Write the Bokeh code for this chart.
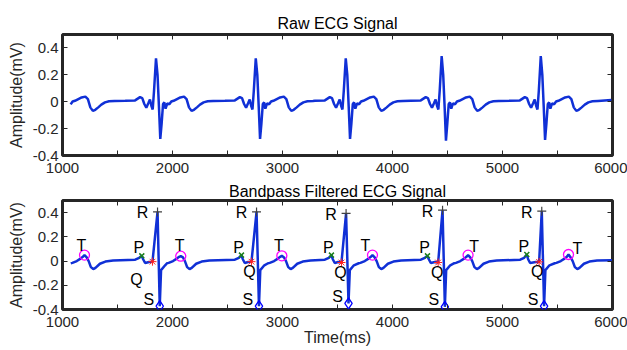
from bokeh.plotting import figure
from bokeh.models import Range1d, FixedTicker, LinearAxis, ColumnDataSource
from bokeh.layouts import column
from bokeh.embed import file_html
from bokeh.resources import INLINE
from bokeh.core.properties import value

# ---------------- axis ticks ----------------
x_ticks = [1000, 1500, 2000, 2500, 3000, 3500, 4000, 4500, 5000, 5500, 6000]
x_tick_labels = ["1000", "", "2000", "", "3000", "", "4000", "", "5000", "", "6000"]
y_ticks = [-0.4, -0.2, 0.0, 0.2, 0.4]
y_tick_labels = ["-0.4", "-0.2", "0", "0.2", "0.4"]

# ---------------- raw ECG (beat shape) ----------------
raw_r_times = [953, 1850, 2757, 3575, 4447, 5348]
raw_r_vals = [0.32, 0.323, 0.323, 0.323, 0.34, 0.34]
raw_s_vals = [-0.27, -0.277, -0.277, -0.277, -0.289, -0.284]
raw_beat_offsets = [-280, -190, -145, -125, -106, -88, -70, -55, -42, -30, -18,
                    0, 14, 27, 39, 51, 64, 76, 87, 103, 121,
                    139, 160, 191, 221, 255, 278, 300, 323, 345, 372,
                    400, 433, 470, 520]
raw_beat_values = [0.008, 0.01, 0.034, 0.027, -0.017, -0.045, -0.012, 0.017, -0.03, -0.058, 0.08,
                   None, 0.2, -0.04, None, -0.165, -0.017, -0.005, -0.052, -0.012, -0.02,
                   0.002, 0.007, 0.02, 0.032, 0.038, 0.02, -0.042, -0.068, -0.06, -0.042,
                   -0.022, -0.005, 0.003, 0.006]
raw_start_time = 1070
raw_end_time = 5990
raw_end_val = 0.012

# ---------------- filtered ECG fiducial points ----------------
f_p_times = [1721, 2627, 3445, 4318, 5221]
f_p_vals = [0.043, 0.049, 0.049, 0.043, 0.054]
f_q_times = [1818, 2718, 3536, 4415, 5333]
f_q_vals = [-0.005, -0.005, -0.012, -0.012, -0.007]
f_r_times = [1864, 2764, 3578, 4455, 5357]
f_r_vals = [0.406, 0.406, 0.393, 0.42, 0.412]
f_s_times = [1884, 2786, 3600, 4476, 5378]
f_s_vals = [-0.372, -0.372, -0.35, -0.378, -0.372]
f_t_times = [1200, 2075, 2994, 3818, 4687, 5600]
f_t_vals = [0.049, 0.04, 0.043, 0.049, 0.049, 0.054]

# wave shapes around fiducials (offset ms, value; None = fiducial value)
p_wave_offsets = [-60, -24, 0, 12, 30]
p_wave_values = [0.011, 0.027, None, 0.015, -0.016]
q_wave_offsets = [-30, 0]
q_wave_values = [-0.008, None]
s_wave_offsets = [0, 12, 49]
s_wave_values = [None, -0.075, -0.035]
t_wave_offsets = [-125, -110, -70, -36, -15, 0, 20, 38, 58, 80, 100, 140, 190, 260]
t_wave_values = [-0.018, -0.015, 0.0, 0.02, 0.035, None, 0.03, 0.0, -0.05, -0.066,
                 -0.056, -0.022, -0.004, 0.004]
f_end_time = 5995
f_end_val = 0.006


def anchored(t0, v0, offsets, values):
    return [(t0 + o, v0 if v is None else v) for o, v in zip(offsets, values)]


# raw series
raw_pts = []
for i, rt in enumerate(raw_r_times):
    vals = list(raw_beat_values)
    vals[11] = raw_r_vals[i]
    vals[14] = raw_s_vals[i]
    raw_pts += [(rt + o, v) for o, v in zip(raw_beat_offsets, vals)]
raw_pts = [pt for pt in raw_pts if pt[0] >= raw_start_time]
raw_pts.append((raw_end_time, raw_end_val))
raw_t = [pt[0] for pt in raw_pts]
raw_v = [pt[1] for pt in raw_pts]

# filtered series
f_pts = anchored(f_t_times[0], f_t_vals[0], t_wave_offsets, t_wave_values)
for i in range(len(f_r_times)):
    f_pts += anchored(f_p_times[i], f_p_vals[i], p_wave_offsets, p_wave_values)
    f_pts += anchored(f_q_times[i], f_q_vals[i], q_wave_offsets, q_wave_values)
    f_pts.append((f_r_times[i], f_r_vals[i]))
    f_pts += anchored(f_s_times[i], f_s_vals[i], s_wave_offsets, s_wave_values)
    f_pts += anchored(f_t_times[i + 1], f_t_vals[i + 1], t_wave_offsets, t_wave_values)
f_pts.append((f_end_time, f_end_val))
f_t = [pt[0] for pt in f_pts]
f_v = [pt[1] for pt in f_pts]

# ---------------- styling ----------------
FONT = "Liberation Sans"
AX = "#262626"
LINE = "#1030d6"
W = 627
FRAME_L = 62
FRAME_R = 612


def style_axis(ax, ticks, labels, show_labels=True):
    ax.ticker = FixedTicker(ticks=ticks)
    ax.major_label_overrides = {t: l for t, l in zip(ticks, labels)}
    ax.axis_line_color = None
    ax.major_tick_in = 5
    ax.major_tick_out = 0
    ax.major_tick_line_color = AX
    ax.major_tick_line_width = 1
    ax.minor_tick_line_color = None
    ax.major_label_text_font = FONT
    ax.major_label_text_color = AX
    if show_labels:
        ax.major_label_text_font_size = "15px"
        ax.major_label_standoff = 5
    else:
        ax.major_label_text_font_size = "0px"
        ax.major_label_standoff = 0
    ax.axis_label_text_font = FONT
    ax.axis_label_text_font_size = "16px"
    ax.axis_label_text_font_style = "normal"
    ax.axis_label_text_color = AX


def make_fig(title, height, top, bottom, title_standoff):
    p = figure(width=W, height=height, x_range=Range1d(1000, 6000), y_range=Range1d(-0.4, 0.5),
               output_backend="svg", toolbar_location=None, title=title,
               min_border_left=FRAME_L, min_border_right=W - FRAME_R,
               min_border_top=top, min_border_bottom=bottom)
    p.title.align = "center"
    p.title.text_font = FONT
    p.title.text_font_size = "16px"
    p.title.text_font_style = "normal"
    p.title.text_color = "black"
    p.title.standoff = title_standoff
    p.xgrid.visible = False
    p.ygrid.visible = False
    p.outline_line_color = AX
    p.outline_line_width = 3
    p.outline_line_alpha = 1
    p.background_fill_color = "white"
    p.border_fill_color = "white"
    bottom_ax = p.below[0]
    left_ax = p.left[0]
    style_axis(bottom_ax, x_ticks, x_tick_labels)
    bottom_ax.major_label_standoff = 7
    style_axis(left_ax, y_ticks, y_tick_labels)
    left_ax.major_label_standoff = 4
    left_ax.axis_label = "Amplitude(mV)"
    left_ax.axis_label_standoff = 5
    top_ax = LinearAxis()
    style_axis(top_ax, x_ticks, [""] * len(x_ticks), show_labels=False)
    p.add_layout(top_ax, "above")
    right_ax = LinearAxis()
    style_axis(right_ax, y_ticks, [""] * len(y_ticks), show_labels=False)
    p.add_layout(right_ax, "right")
    return p, bottom_ax


p1, _ = make_fig("Raw ECG Signal", 179, 34, 24, 6)
p1.line(raw_t, raw_v, line_color=LINE, line_width=2.5)

p2, p2_bottom = make_fig("Bandpass Filtered ECG Signal", 171, 21, 41, 2)
p2_bottom.axis_label = "Time(ms)"
p2_bottom.axis_label_standoff = -1
p2.line(f_t, f_v, line_color=LINE, line_width=2.5)

p2.scatter(f_r_times, f_r_vals, marker="cross", size=9, line_color="#404040", line_width=1.2)
p2.scatter(f_p_times, f_p_vals, marker="x", size=7, line_color="#1b7f1b", line_width=1.5)
p2.scatter(f_q_times, f_q_vals, marker="asterisk", size=8, line_color="#ff2020", line_width=1)
p2.scatter(f_s_times, f_s_vals, marker="diamond", size=11, line_color="#0000ff", fill_color=None, line_width=1.3)
p2.scatter(f_t_times, f_t_vals, marker="circle", size=10, line_color="#ff00ff", fill_color=None, line_width=1.3)

# labels next to fiducials (offsets in screen pixels)
lab_x, lab_y, lab_t, lab_dx, lab_dy = [], [], [], [], []
q_dx = [-16, -2, -1, -1, -2]
q_dy = [18, 10, 10, 10, 10]
t_dx = [-3, -1, -3, -7, 6, 9]
t_dy = [-10, -11, -10, -10, -9, -6]
for i in range(len(f_r_times)):
    lab_x += [f_r_times[i], f_p_times[i], f_q_times[i], f_s_times[i]]
    lab_y += [f_r_vals[i], f_p_vals[i], f_q_vals[i], f_s_vals[i]]
    lab_t += ["R", "P", "Q", "S"]
    lab_dx += [-15, -3, q_dx[i], -11]
    lab_dy += [1, -8, q_dy[i], -7]
for i in range(len(f_t_times)):
    lab_x.append(f_t_times[i])
    lab_y.append(f_t_vals[i])
    lab_t.append("T")
    lab_dx.append(t_dx[i])
    lab_dy.append(t_dy[i])
src = ColumnDataSource(dict(x=lab_x, y=lab_y, text=lab_t, dx=lab_dx, dy=lab_dy))
p2.text(x="x", y="y", text="text", x_offset="dx", y_offset="dy", source=src,
        text_font=value(FONT), text_font_size="16px", text_color="black",
        text_align="center", text_baseline="middle")

layout = column(p1, p2, spacing=0)
open("out.html", "w").write(file_html(layout, INLINE))
